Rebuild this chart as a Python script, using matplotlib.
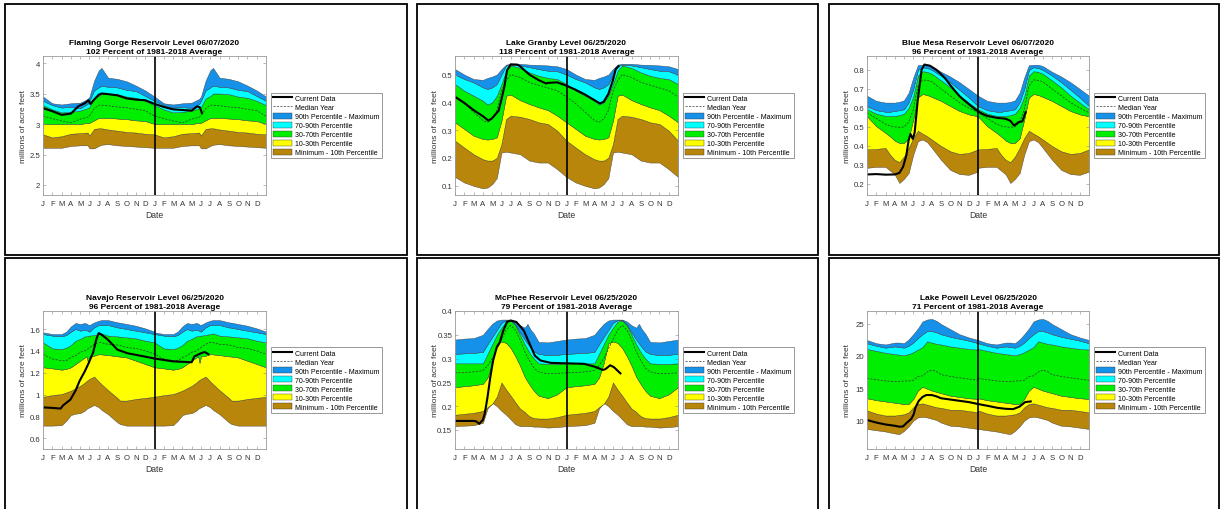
import matplotlib
matplotlib.use("Agg")
import matplotlib.pyplot as plt
import numpy as np
from matplotlib.lines import Line2D
from matplotlib.patches import Patch, Rectangle
from matplotlib.ticker import FormatStrFormatter

plt.rcParams["font.family"] = ["Liberation Sans", "DejaVu Sans"]

# ---------------------------------------------------------------------------
# Data (millions of acre feet), one year of percentile bands, repeated twice
# x values are months from Jan 1 (0 .. 12)

# Flaming Gorge
fg_month = [0, 1, 2, 3, 4, 4.8, 5, 5.5, 6, 6.3, 7, 8, 9, 10, 11, 12]
fg_max = [3.45, 3.34, 3.32, 3.34, 3.35, 3.41, 3.45, 3.71, 3.88, 3.92, 3.76, 3.74, 3.70, 3.63, 3.55, 3.45]
fg_p90 = [3.38, 3.31, 3.27, 3.28, 3.26, 3.33, 3.38, 3.55, 3.60, 3.63, 3.61, 3.60, 3.56, 3.54, 3.46, 3.38]
fg_p70 = [3.31, 3.24, 3.19, 3.20, 3.22, 3.26, 3.28, 3.42, 3.46, 3.50, 3.50, 3.49, 3.45, 3.43, 3.38, 3.31]
fg_med = [3.13, 3.09, 3.05, 3.02, 3.08, 3.11, 3.13, 3.25, 3.31, 3.31, 3.30, 3.28, 3.27, 3.24, 3.22, 3.13]
fg_p30 = [3.00, 3.00, 3.00, 3.00, 3.00, 3.02, 3.02, 3.06, 3.10, 3.10, 3.10, 3.09, 3.08, 3.06, 3.05, 3.00]
fg_p10 = [2.83, 2.78, 2.80, 2.84, 2.85, 2.86, 2.81, 2.92, 2.93, 2.93, 2.91, 2.89, 2.87, 2.86, 2.84, 2.83]
fg_min = [2.61, 2.61, 2.61, 2.64, 2.65, 2.65, 2.60, 2.60, 2.64, 2.66, 2.67, 2.65, 2.64, 2.63, 2.62, 2.61]
fg_cur_x = [0, 1, 2, 3, 3.8, 4.5, 4.9, 5.1, 5.5, 6, 6.3, 7, 8, 9, 10, 11, 12, 13, 14, 15, 16, 16.6, 16.9, 17.1]
fg_cur_y = [3.26, 3.21, 3.15, 3.17, 3.29, 3.34, 3.39, 3.33, 3.40, 3.48, 3.50, 3.49, 3.47, 3.42, 3.40, 3.39,
            3.33, 3.28, 3.24, 3.23, 3.22, 3.29, 3.27, 3.18]

# Lake Granby
gr_month = [0, 1, 2, 3, 3.5, 4, 4.5, 5, 5.5, 6, 7, 8, 9, 10, 11, 12]
gr_max = [0.520, 0.500, 0.484, 0.481, 0.488, 0.493, 0.500, 0.520, 0.536, 0.539, 0.539, 0.536, 0.535, 0.533, 0.530, 0.520]
gr_p90 = [0.500, 0.484, 0.472, 0.454, 0.448, 0.454, 0.466, 0.500, 0.533, 0.536, 0.533, 0.527, 0.520, 0.514, 0.512, 0.500]
gr_p70 = [0.466, 0.442, 0.424, 0.406, 0.392, 0.400, 0.424, 0.466, 0.514, 0.533, 0.524, 0.508, 0.496, 0.488, 0.484, 0.466]
gr_med = [0.420, 0.395, 0.365, 0.335, 0.328, 0.340, 0.370, 0.440, 0.478, 0.500, 0.490, 0.472, 0.462, 0.452, 0.442, 0.420]
gr_p30 = [0.328, 0.304, 0.280, 0.268, 0.266, 0.268, 0.274, 0.334, 0.424, 0.428, 0.408, 0.394, 0.382, 0.372, 0.352, 0.328]
gr_p10 = [0.262, 0.237, 0.213, 0.195, 0.190, 0.190, 0.200, 0.250, 0.340, 0.352, 0.348, 0.340, 0.328, 0.322, 0.298, 0.262]
gr_min = [0.131, 0.111, 0.099, 0.090, 0.093, 0.105, 0.127, 0.219, 0.222, 0.219, 0.213, 0.190, 0.183, 0.183, 0.159, 0.131]
gr_cur_x = [0, 1, 2, 3, 3.6, 4, 4.7, 5.0, 5.3, 5.6, 6.0, 6.7, 7, 8, 9, 9.8, 10, 11, 12, 13, 14, 15, 15.6,
            16, 16.5, 17, 17.3, 17.6]
gr_cur_y = [0.420, 0.398, 0.372, 0.350, 0.334, 0.343, 0.370, 0.410, 0.455, 0.515, 0.537, 0.536, 0.530, 0.500,
            0.480, 0.468, 0.470, 0.472, 0.460, 0.445, 0.428, 0.408, 0.396, 0.402, 0.430, 0.480, 0.520, 0.530]

# Blue Mesa
bm_month = [0, 1, 2, 2.5, 3, 3.5, 4, 4.5, 5, 5.5, 6, 6.5, 7, 8, 9, 10, 11, 12]
bm_max = [0.664, 0.637, 0.628, 0.628, 0.628, 0.632, 0.640, 0.680, 0.760, 0.825, 0.827, 0.827, 0.820, 0.790, 0.765, 0.735, 0.700, 0.664]
bm_p90 = [0.610, 0.588, 0.580, 0.580, 0.584, 0.588, 0.593, 0.630, 0.700, 0.800, 0.814, 0.810, 0.800, 0.770, 0.735, 0.695, 0.655, 0.610]
bm_p70 = [0.593, 0.570, 0.558, 0.558, 0.558, 0.562, 0.570, 0.600, 0.660, 0.770, 0.793, 0.790, 0.780, 0.745, 0.708, 0.665, 0.628, 0.593]
bm_med = [0.575, 0.545, 0.515, 0.505, 0.500, 0.498, 0.500, 0.525, 0.590, 0.715, 0.747, 0.745, 0.738, 0.700, 0.664, 0.628, 0.600, 0.575]
bm_p30 = [0.556, 0.504, 0.469, 0.450, 0.428, 0.416, 0.416, 0.440, 0.540, 0.655, 0.673, 0.668, 0.658, 0.637, 0.610, 0.584, 0.566, 0.556]
bm_p10 = [0.382, 0.384, 0.390, 0.354, 0.327, 0.315, 0.345, 0.390, 0.442, 0.480, 0.465, 0.451, 0.434, 0.400, 0.372, 0.358, 0.363, 0.382]
bm_min = [0.285, 0.290, 0.290, 0.270, 0.250, 0.205, 0.227, 0.257, 0.354, 0.425, 0.434, 0.420, 0.390, 0.327, 0.274, 0.252, 0.248, 0.265]
bm_cur_x = [0, 1, 2, 3, 3.5, 3.9, 4.25, 4.5, 4.7, 4.95, 5.15, 5.5, 5.9, 6.2, 6.8, 7.5, 8, 8.5, 9, 9.5, 10,
            10.5, 11, 11.5, 12, 12.5, 13, 14, 15, 15.5, 15.9, 16.4, 16.8, 17.15]
bm_cur_y = [0.250, 0.252, 0.249, 0.250, 0.258, 0.290, 0.350, 0.430, 0.463, 0.437, 0.470, 0.647, 0.800, 0.828,
            0.822, 0.800, 0.778, 0.752, 0.720, 0.690, 0.662, 0.640, 0.620, 0.600, 0.582, 0.568, 0.558, 0.548,
            0.543, 0.532, 0.507, 0.525, 0.530, 0.578]

# Navajo
nv_month = [0, 1, 2, 2.5, 3, 3.5, 4, 4.5, 4.7, 4.85, 5.0, 5.5, 6, 6.3, 7, 8, 8.3, 9, 10, 11, 12]
nv_max = [1.570, 1.554, 1.554, 1.576, 1.624, 1.655, 1.646, 1.655, 1.650, 1.640, 1.637, 1.660, 1.676, 1.682,
          1.682, 1.661, 1.658, 1.646, 1.630, 1.606, 1.576]
nv_p90 = [1.554, 1.540, 1.533, 1.545, 1.576, 1.600, 1.585, 1.594, 1.590, 1.580, 1.576, 1.615, 1.637, 1.640,
          1.637, 1.615, 1.612, 1.600, 1.585, 1.570, 1.554]
nv_p70 = [1.478, 1.423, 1.417, 1.430, 1.454, 1.493, 1.510, 1.533, 1.535, 1.538, 1.540, 1.545, 1.554, 1.560,
          1.540, 1.533, 1.530, 1.524, 1.515, 1.493, 1.478]
nv_med = [1.370, 1.326, 1.310, 1.310, 1.340, 1.356, 1.387, 1.400, 1.410, 1.420, 1.430, 1.460, 1.478, 1.475,
          1.460, 1.454, 1.450, 1.430, 1.423, 1.400, 1.370]
nv_p30 = [1.250, 1.240, 1.228, 1.235, 1.250, 1.280, 1.310, 1.340, 1.350, 1.290, 1.350, 1.356, 1.370, 1.368,
          1.362, 1.350, 1.348, 1.340, 1.310, 1.280, 1.250]
nv_p10 = [0.980, 0.995, 1.005, 1.020, 1.036, 1.058, 1.080, 1.110, 1.125, 1.135, 1.143, 1.165, 1.120, 1.095,
          1.040, 0.970, 0.945, 0.945, 0.960, 0.970, 0.980]
nv_min = [0.716, 0.716, 0.720, 0.760, 0.813, 0.825, 0.830, 0.853, 0.870, 0.878, 0.883, 0.905, 0.884, 0.860,
          0.820, 0.746, 0.730, 0.716, 0.716, 0.716, 0.716]
nv_cur_x = [0, 1, 1.9, 2.15, 2.95, 3.5, 3.95, 4.5, 4.95, 5.4, 5.75, 6.0, 6.3, 6.9, 7.6, 8.0, 9.1, 10.1, 11,
            12, 14, 16, 16.3, 17.0, 17.4, 17.8]
nv_cur_y = [0.883, 0.878, 0.872, 0.900, 0.954, 1.036, 1.127, 1.213, 1.295, 1.387, 1.509, 1.563, 1.548, 1.509,
            1.448, 1.411, 1.378, 1.362, 1.347, 1.330, 1.304, 1.296, 1.350, 1.378, 1.390, 1.370]

# McPhee
mp_month = [0, 1, 2, 3, 3.5, 4, 4.5, 5, 5.5, 6, 6.5, 7, 7.5, 7.8, 8.1, 8.5, 9, 10, 11, 12]
mp_max = [0.340, 0.342, 0.343, 0.350, 0.362, 0.373, 0.380, 0.382, 0.382, 0.382, 0.378, 0.370, 0.365, 0.373,
          0.362, 0.352, 0.335, 0.334, 0.337, 0.340]
mp_p90 = [0.310, 0.311, 0.312, 0.314, 0.330, 0.345, 0.360, 0.375, 0.381, 0.381, 0.372, 0.355, 0.340, 0.332,
          0.324, 0.315, 0.310, 0.307, 0.308, 0.310]
mp_p70 = [0.290, 0.290, 0.290, 0.290, 0.310, 0.330, 0.350, 0.365, 0.378, 0.380, 0.370, 0.350, 0.330, 0.320,
          0.310, 0.300, 0.290, 0.289, 0.289, 0.290]
mp_med = [0.270, 0.271, 0.272, 0.275, 0.285, 0.300, 0.320, 0.340, 0.360, 0.370, 0.360, 0.340, 0.315, 0.303,
          0.293, 0.280, 0.272, 0.268, 0.269, 0.270]
mp_p30 = [0.240, 0.242, 0.244, 0.247, 0.260, 0.290, 0.332, 0.336, 0.333, 0.322, 0.305, 0.285, 0.262, 0.252,
          0.243, 0.232, 0.222, 0.217, 0.225, 0.240]
mp_p10 = [0.182, 0.184, 0.186, 0.190, 0.198, 0.205, 0.220, 0.250, 0.235, 0.222, 0.208, 0.195, 0.188, 0.182,
          0.178, 0.175, 0.174, 0.174, 0.177, 0.182]
mp_min = [0.158, 0.159, 0.160, 0.165, 0.195, 0.207, 0.200, 0.190, 0.182, 0.172, 0.162, 0.158, 0.158, 0.158,
          0.158, 0.157, 0.157, 0.155, 0.156, 0.158]
mp_cur_x = [0, 2, 2.3, 2.6, 3.0, 3.2, 3.5, 3.8, 4.1, 4.5, 4.8, 5.2, 5.6, 6.0, 6.6, 7.4, 8.1, 8.6, 9.2, 10.3,
            12.1, 13.9, 15.2, 15.9, 16.2, 16.7, 17.1, 17.8]
mp_cur_y = [0.169, 0.169, 0.168, 0.163, 0.171, 0.184, 0.219, 0.261, 0.296, 0.324, 0.333, 0.359, 0.377, 0.380,
            0.377, 0.359, 0.328, 0.306, 0.296, 0.291, 0.290, 0.289, 0.282, 0.276, 0.278, 0.286, 0.282, 0.269]

# Lake Powell
lp_month = [0, 1, 2, 3, 3.5, 4, 4.5, 5, 5.5, 6, 6.5, 7, 7.5, 8, 9, 10, 11, 12]
lp_max = [22.5, 22.0, 21.8, 22.1, 22.1, 22.0, 22.6, 23.4, 24.3, 25.4, 25.7, 25.8, 25.5, 25.0, 24.2, 23.4, 22.9, 22.5]
lp_p90 = [22.0, 21.6, 21.3, 21.5, 21.4, 21.3, 21.6, 22.1, 22.8, 23.4, 23.9, 23.9, 23.7, 23.4, 23.0, 22.7, 22.4, 22.0]
lp_p70 = [21.1, 20.8, 20.5, 20.3, 20.2, 20.1, 20.3, 20.6, 21.0, 21.4, 22.3, 22.1, 21.9, 21.8, 21.5, 21.3, 21.1, 21.0]
lp_med = [16.5, 16.3, 16.1, 16.0, 16.0, 16.1, 16.1, 16.2, 16.8, 16.9, 17.5, 17.8, 17.6, 17.1, 16.8, 16.6, 16.4, 16.2]
lp_p30 = [13.4, 13.1, 12.9, 12.7, 12.6, 12.5, 12.5, 13.3, 14.6, 15.2, 14.9, 14.6, 14.4, 14.2, 13.8, 13.6, 13.4, 13.3]
lp_p10 = [11.5, 11.0, 10.7, 10.7, 10.8, 10.9, 11.2, 12.0, 12.5, 12.6, 12.4, 12.2, 12.0, 11.9, 11.6, 11.6, 11.4, 11.2]
lp_min = [8.6, 8.4, 8.2, 7.9, 7.8, 8.3, 9.0, 9.9, 10.4, 10.5, 10.4, 10.2, 10.0, 9.6, 9.1, 9.0, 8.8, 8.6]
lp_cur_x = [0, 1, 2, 3, 3.5, 3.9, 4.25, 4.8, 5.05, 5.25, 5.6, 6.0, 6.4, 7.0, 7.5, 8, 9, 10, 11, 12, 13.1,
            14.1, 15, 15.8, 16.5, 17.1, 17.7]
lp_cur_y = [10.0, 9.6, 9.3, 9.1, 8.95, 9.0, 9.5, 10.2, 10.9, 12.0, 13.0, 13.6, 13.9, 13.9, 13.7, 13.4, 13.2,
            13.0, 12.8, 12.5, 12.2, 11.9, 11.75, 11.7, 12.1, 12.8, 12.9]

titles = [
    "Flaming Gorge Reservoir Level 06/07/2020\n102 Percent of 1981-2018 Average",
    "Lake Granby Level 06/25/2020\n118 Percent of 1981-2018 Average",
    "Blue Mesa Reservoir Level 06/07/2020\n96 Percent of 1981-2018 Average",
    "Navajo Reservoir Level 06/25/2020\n96 Percent of 1981-2018 Average",
    "McPhee Reservoir Level 06/25/2020\n79 Percent of 1981-2018 Average",
    "Lake Powell Level 06/25/2020\n71 Percent of 1981-2018 Average",
]
yticks = [
    [2, 2.5, 3, 3.5, 4],
    [0.1, 0.2, 0.3, 0.4, 0.5],
    [0.2, 0.3, 0.4, 0.5, 0.6, 0.7, 0.8],
    [0.6, 0.8, 1.0, 1.2, 1.4, 1.6],
    [0.15, 0.2, 0.25, 0.3, 0.35, 0.4],
    [10, 15, 20, 25],
]
ylims = [(1.836, 4.115), (0.066, 0.567), (0.142, 0.873), (0.502, 1.765), (0.11, 0.40), (5.47, 27.03)]
month_labels = list("JFMAMJJASOND") * 2
legend_labels = ["Current Data", "Median Year", "90th Percentile - Maximum", "70-90th Percentile",
                 "30-70th Percentile", "10-30th Percentile", "Minimum - 10th Percentile"]

reservoirs = [
    (fg_month, fg_max, fg_p90, fg_p70, fg_med, fg_p30, fg_p10, fg_min, fg_cur_x, fg_cur_y),
    (gr_month, gr_max, gr_p90, gr_p70, gr_med, gr_p30, gr_p10, gr_min, gr_cur_x, gr_cur_y),
    (bm_month, bm_max, bm_p90, bm_p70, bm_med, bm_p30, bm_p10, bm_min, bm_cur_x, bm_cur_y),
    (nv_month, nv_max, nv_p90, nv_p70, nv_med, nv_p30, nv_p10, nv_min, nv_cur_x, nv_cur_y),
    (mp_month, mp_max, mp_p90, mp_p70, mp_med, mp_p30, mp_p10, mp_min, mp_cur_x, mp_cur_y),
    (lp_month, lp_max, lp_p90, lp_p70, lp_med, lp_p30, lp_p10, lp_min, lp_cur_x, lp_cur_y),
]

# ---------------------------------------------------------------------------
BLUE = "#1591EA"
CYAN = "#00FFFF"
GREEN = "#00EE00"
YELLOW = "#FFFF00"
BROWN = "#B8860B"
EDGE = "#3a3a3a"

W, H = 1221, 510
fig = plt.figure(figsize=(W / 100, H / 100), dpi=100)

# panel frames (pixels: left, top, right, bottom)
frames = [(5, 5, 407, 256), (417, 5, 818, 256), (829, 5, 1219, 256),
          (5, 259, 407, 530), (417, 259, 818, 530), (829, 259, 1219, 530)]
for l, t, r, b in frames:
    fig.add_artist(Rectangle((l / W, 1 - b / H), (r - l) / W, (b - t) / H,
                             transform=fig.transFigure, fill=False, ec="k", lw=1.3))

# axes boxes in pixels
boxes = [(43, 57, 266, 196), (455, 57, 678, 196), (867, 57, 1089, 196),
         (43, 312, 266, 450), (455, 312, 678, 450), (867, 312, 1089, 450)]

for i, res in enumerate(reservoirs):
    month, vmax, p90, p70, med, p30, p10, vmin, cx, cy = res
    l, t, r, b = boxes[i]
    ax = fig.add_axes([l / W, 1 - b / H, (r - l) / W, (b - t) / H])

    x2 = np.concatenate([month, np.array(month) + 12])
    tile = lambda v: np.concatenate([v, v])

    ax.fill_between(x2, tile(vmin), tile(p10), fc=BROWN, ec=EDGE, lw=0.3)
    ax.fill_between(x2, tile(p10), tile(p30), fc=YELLOW, ec=EDGE, lw=0.3)
    ax.fill_between(x2, tile(p30), tile(p70), fc=GREEN, ec=EDGE, lw=0.3)
    ax.fill_between(x2, tile(p70), tile(p90), fc=CYAN, ec=EDGE, lw=0.3)
    ax.fill_between(x2, tile(p90), tile(vmax), fc=BLUE, ec=EDGE, lw=0.3)
    ax.plot(x2, tile(med), color="#333333", ls=(0, (3, 2)), lw=0.5)
    ax.plot(cx, cy, color="k", lw=1.5)
    ax.axvline(12, color="k", lw=1.2)

    ax.set_xlim(0, 24)
    ax.set_ylim(*ylims[i])
    ax.set_xticks(np.arange(24))
    ax.set_xticklabels(month_labels)
    ax.set_yticks(yticks[i])
    ax.yaxis.set_major_formatter(FormatStrFormatter("%g"))
    ax.tick_params(direction="in", length=2, width=0.4, color="#888888", labelsize=5.6,
                   labelcolor="#333333", top=True, right=True)
    ax.tick_params(axis="x", pad=3.5)
    ax.tick_params(axis="y", pad=2)
    for s in ax.spines.values():
        s.set_color("#999999")
        s.set_linewidth(0.6)

    ax.set_title(titles[i], fontsize=6.0, fontweight="bold", pad=2, linespacing=1.45)
    ax.set_xlabel("Date", fontsize=6.2, color="#333333")
    ax.xaxis.set_label_coords(0.5, -15 / (b - t))
    ax.set_ylabel("millions of acre feet", fontsize=6.0, color="#333333")
    ax.yaxis.set_label_coords(-16 / (r - l), 0.5)

    handles = [
        Line2D([], [], color="k", lw=1.5),
        Line2D([], [], color="#333333", ls=(0, (3, 2)), lw=0.5),
        Patch(fc=BLUE, ec=EDGE, lw=0.3),
        Patch(fc=CYAN, ec=EDGE, lw=0.3),
        Patch(fc=GREEN, ec=EDGE, lw=0.3),
        Patch(fc=YELLOW, ec=EDGE, lw=0.3),
        Patch(fc=BROWN, ec=EDGE, lw=0.3),
    ]
    leg = ax.legend(handles, legend_labels, loc="center left",
                    bbox_to_anchor=(1 + 5 / (r - l), 0.5), fontsize=5.0, frameon=True,
                    fancybox=False, edgecolor="#888888", framealpha=1,
                    handlelength=2.7, handleheight=0.9, labelspacing=0.25,
                    handletextpad=0.5, borderpad=0.3, borderaxespad=0)
    leg.get_frame().set_linewidth(0.6)

fig.savefig("out.png", dpi=100)
